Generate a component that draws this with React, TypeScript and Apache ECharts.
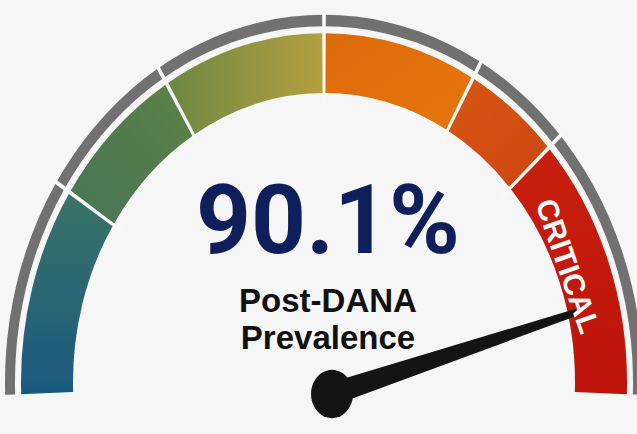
import React, { useEffect, useRef } from "react";
import * as echarts from "echarts";

// ---- data ----
const VALUE = 90.1; // percent
const GAUGE_MIN = 0;
const GAUGE_MAX = 100;
const zoneBounds = [19, 33, 50, 66, 76, 100]; // upper bound of each zone
const zoneLabel = "CRITICAL";
const metricLines = ["Post-DANA", "Prevalence"];

// ---- styles ----
const zoneGradients: [number, number, number, number, string, string][] = [
  [0, 1, 0, 0, "#1a5a80", "#3a7367"],
  [0, 1, 1, 0, "#447657", "#5f8145"],
  [0, 0, 1, 0, "#6c8743", "#b4a03f"],
  [0, 0, 1, 1, "#dc6a0a", "#e6760d"],
  [0, 0, 1, 1, "#d85812", "#cd4512"],
  [0, 0, 0, 1, "#c8200e", "#bc130a"],
];

const W = 637;
const H = 434;
const CH = 377; // chart height before vertical stretch
const K = H / CH; // vertical stretch -> elliptical gauge

const CX = 324;
const CY_SCREEN = 382;
const R = 303;
const BAND_W = 52;
const START = 182;
const END = -2;

export default function App() {
  const ref = useRef<HTMLDivElement>(null);

  useEffect(() => {
    if (!ref.current) return;
    const chart = echarts.init(ref.current, null, { renderer: "svg" });

    const bandColors = zoneBounds.map((b, i) => {
      const g = zoneGradients[i];
      return [
        b / GAUGE_MAX,
        new echarts.graphic.LinearGradient(g[0], g[1], g[2], g[3], [
          { offset: 0, color: g[4] },
          { offset: 1, color: g[5] },
        ]),
      ];
    });

    const half = 0.18;
    const dividerColors: any[] = [];
    zoneBounds.slice(0, -1).forEach((b) => {
      dividerColors.push([(b - half) / GAUGE_MAX, "rgba(0,0,0,0)"]);
      dividerColors.push([(b + half) / GAUGE_MAX, "#f8f8f8"]);
    });
    dividerColors.push([1, "rgba(0,0,0,0)"]);

    const cy = CY_SCREEN / K;
    const hidden = {
      axisTick: { show: false },
      splitLine: { show: false },
      axisLabel: { show: false },
      pointer: { show: false },
      anchor: { show: false },
      title: { show: false },
      detail: { show: false },
    };
    const common = {
      type: "gauge",
      center: [CX, cy],
      startAngle: START,
      endAngle: END,
      min: GAUGE_MIN,
      max: GAUGE_MAX,
      silent: true,
      data: [{ value: VALUE }],
    };

    const greyOuter = R + 6 + 10;

    chart.setOption({
      animation: false,
      backgroundColor: "#f6f6f6",
      series: [
        {
          ...common,
          ...hidden,
          radius: greyOuter,
          axisLine: { show: true, lineStyle: { width: 10, color: [[1, "#717171"]] } },
        },
        {
          ...common,
          ...hidden,
          radius: R,
          axisLine: { show: true, lineStyle: { width: BAND_W, color: bandColors } },
        },
        {
          ...common,
          ...hidden,
          radius: greyOuter + 2,
          axisLine: { show: true, lineStyle: { width: 80, color: dividerColors } },
        },
        {
          ...common,
          ...hidden,
          center: [332, 394 / K],
          radius: 255,
          axisLine: { show: false },
          pointer: {
            show: true,
            icon: "path://M7,0 L13,0 L20,100 L0,100 Z",
            length: 255,
            width: 20,
            itemStyle: { color: "#141414" },
          },
          anchor: {
            show: true,
            showAbove: true,
            size: 42,
            itemStyle: { color: "#141414" },
          },
        },
      ],
      graphic: [
        {
          type: "group",
          x: 0,
          y: 0,
          scaleY: 1 / K,
          silent: true,
          z: 100,
          children: [
            {
              type: "text",
              x: 328,
              y: 220,
              z: 100,
              style: {
                text: VALUE.toFixed(1) + "%",
                fill: "#0f1f5c",
                font: "bold 96px Roboto",
                align: "center",
                verticalAlign: "middle",
              },
            },
            {
              type: "text",
              x: 328,
              y: 300,
              z: 100,
              style: {
                text: metricLines[0],
                fill: "#111111",
                font: "bold 33px 'Liberation Sans'",
                align: "center",
                verticalAlign: "middle",
              },
            },
            {
              type: "text",
              x: 328,
              y: 337,
              z: 100,
              style: {
                text: metricLines[1],
                fill: "#111111",
                font: "bold 33px 'Liberation Sans'",
                align: "center",
                verticalAlign: "middle",
              },
            },
            {
              type: "text",
              x: 568,
              y: 266,
              z: 100,
              rotation: (-71 * Math.PI) / 180,
              style: {
                text: zoneLabel,
                fill: "#ffffff",
                font: "bold 30px 'Liberation Sans'",
                align: "center",
                verticalAlign: "middle",
              },
            },
          ],
        },
      ],
    } as any);

    return () => chart.dispose();
  }, []);

  return (
    <div
      ref={ref}
      style={{
        position: "absolute",
        left: 0,
        top: 0,
        width: W,
        height: CH,
        transform: `scaleY(${K})`,
        transformOrigin: "0 0",
      }}
    />
  );
}
